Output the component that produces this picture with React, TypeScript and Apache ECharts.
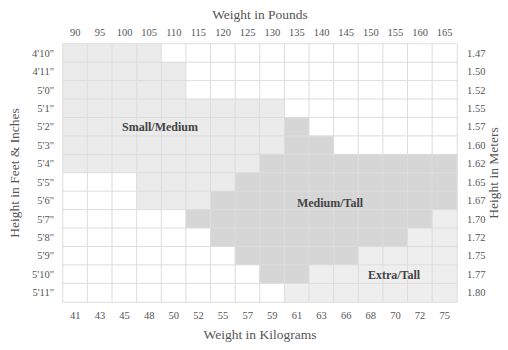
import React, { useEffect, useRef } from "react";
import * as echarts from "echarts";

const poundLabels = ["90", "95", "100", "105", "110", "115", "120", "125", "130", "135", "140", "145", "150", "155", "160", "165"];
const kgLabels = ["41", "43", "45", "48", "50", "52", "55", "57", "59", "61", "63", "66", "68", "70", "72", "75"];
const feetLabels = ["4'10\"", "4'11\"", "5'0\"", "5'1\"", "5'2\"", "5'3\"", "5'4\"", "5'5\"", "5'6\"", "5'7\"", "5'8\"", "5'9\"", "5'10\"", "5'11\""];
const meterLabels = ["1.47", "1.50", "1.52", "1.55", "1.57", "1.60", "1.62", "1.65", "1.67", "1.70", "1.72", "1.75", "1.77", "1.80"];

// size code per cell: . = none, S = Small/Medium, M = Medium/Tall, E = Extra/Tall
const sizeRows = [
  "SSSS............",
  "SSSSS...........",
  "SSSSS...........",
  "SSSSSSSSS.......",
  "SSSSSSSSSM......",
  "SSSSSSSSSMM.....",
  "SSSSSSSSMMMMMMMM",
  "...SSSSMMMMMMMMM",
  "...SSSMMMMMMMMMM",
  ".....MMMMMMMMMME",
  "......MMMMMMMMEE",
  ".......MMMMMEEEE",
  "........MMEEEEEE",
  ".........EEEEEEE",
];

const sizeCodes = [".", "S", "M", "E"];
const sizeColors = ["#ffffff", "#ebebeb", "#d6d6d6", "#eeeeee"];

const FONT = "Liberation Serif";

export default function App() {
  const ref = useRef<HTMLDivElement>(null);
  useEffect(() => {
    if (!ref.current) return;
    const chart = echarts.init(ref.current, null, { renderer: "svg" });
    const data: any[] = [];
    sizeRows.forEach((row, yi) => {
      row.split("").forEach((code, xi) => {
        data.push([xi, yi, sizeCodes.indexOf(code)]);
      });
    });
    const tickLabel = { fontFamily: FONT, fontSize: 10.5, color: "#555" };
    const axisName = { fontFamily: FONT, fontSize: 13.5, color: "#555" };
    const regionText = (text: string, x: number, y: number) => ({
      type: "text",
      x,
      y,
      z: 100,
      silent: true,
      style: { text, font: `bold 12px '${FONT}'`, fill: "#444", align: "center", verticalAlign: "middle" },
    });
    chart.setOption({
      animation: false,
      backgroundColor: "#fff",
      grid: { left: 63, top: 44, width: 394, height: 258, containLabel: false, outerBoundsMode: "none" },
      visualMap: {
        type: "piecewise",
        show: false,
        dimension: 2,
        seriesIndex: 0,
        pieces: sizeColors.map((c, i) => ({ value: i, color: c })),
      },
      xAxis: [
        {
          type: "category",
          data: poundLabels,
          position: "top",
          axisLine: { show: false },
          axisTick: { show: false },
          axisLabel: { ...tickLabel, margin: 6, interval: 0 },
          splitLine: { show: false },
          name: "Weight in Pounds",
          nameLocation: "middle",
          nameGap: 23,
          nameTextStyle: axisName,
        },
        {
          type: "category",
          data: kgLabels,
          position: "bottom",
          axisLine: { show: false },
          axisTick: { show: false },
          axisLabel: { ...tickLabel, margin: 8, interval: 0 },
          splitLine: { show: false },
          name: "Weight in Kilograms",
          nameLocation: "middle",
          nameGap: 25,
          nameTextStyle: axisName,
        },
      ],
      yAxis: [
        {
          type: "category",
          data: feetLabels,
          inverse: true,
          position: "left",
          axisLine: { show: false },
          axisTick: { show: false },
          axisLabel: { ...tickLabel, margin: 9, interval: 0 },
          name: "Height in Feet & Inches",
          nameLocation: "middle",
          nameRotate: 90,
          nameGap: 42,
          nameTextStyle: axisName,
        },
        {
          type: "category",
          data: meterLabels,
          inverse: true,
          position: "right",
          axisLine: { show: false },
          axisTick: { show: false },
          axisLabel: { ...tickLabel, margin: 10, interval: 0 },
          name: "Height in Meters",
          nameLocation: "middle",
          nameRotate: 90,
          nameGap: 29,
          nameMoveOverlap: false,
          nameTextStyle: axisName,
        },
      ],
      series: [
        {
          type: "heatmap",
          xAxisIndex: 0,
          yAxisIndex: 0,
          data,
          itemStyle: { borderColor: "#dddddd", borderWidth: 1 },
          emphasis: { disabled: true },
        },
      ],
      graphic: [
        regionText("Small/Medium", 160, 127),
        regionText("Medium/Tall", 330, 203),
        regionText("Extra/Tall", 394, 275),
      ],
    });
    return () => chart.dispose();
  }, []);
  return <div ref={ref} style={{ width: 508, height: 350, position: "absolute", left: 0, top: 0 }} />;
}
